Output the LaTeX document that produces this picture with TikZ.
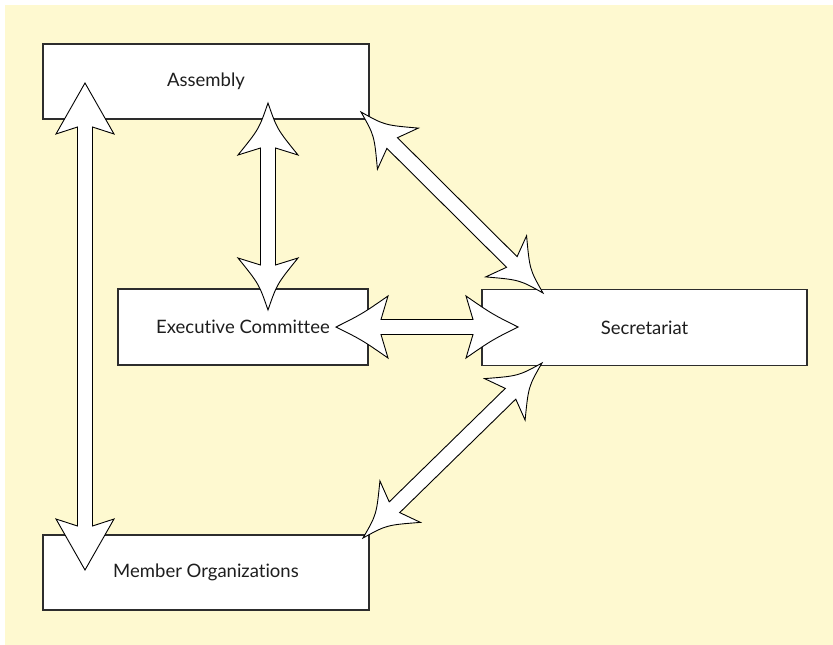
\documentclass[tikz,border=0pt]{standalone}
\usepackage{fontspec}
\setmainfont{Lato}[Ligatures=NoCommon]
\usetikzlibrary{calc}
\definecolor{bgc}{RGB}{254,249,208}
\definecolor{boxline}{RGB}{45,45,45}
\definecolor{txt}{RGB}{30,30,30}
\newcommand\blkarrow[6]{%
  \pgfpointanchor{#1}{center}\pgfgetlastxy{\bkAx}{\bkAy}%
  \pgfpointanchor{#2}{center}\pgfgetlastxy{\bkBx}{\bkBy}%
  \pgfmathsetmacro\bkAng{atan2(\bkBy-\bkAy,\bkBx-\bkAx)}%
  \pgfmathsetmacro\bkLen{veclen(\bkBx-\bkAx,\bkBy-\bkAy)}%
  \begin{scope}[shift={(#1)},rotate=\bkAng,x=1pt,y=1pt]
    \draw[blkarr] (0,0)
      .. controls ({0.5*#3},{(0.5-#6)*#4}) .. (#3,#4)
      -- (#5,7.5) -- ({\bkLen-#5},7.5) -- ({\bkLen-#3},#4)
      .. controls ({\bkLen-0.5*#3},{(0.5-#6)*#4}) .. (\bkLen,0)
      .. controls ({\bkLen-0.5*#3},{-(0.5-#6)*#4}) .. ({\bkLen-#3},-#4)
      -- ({\bkLen-#5},-7.5) -- (#5,-7.5) -- (#3,-#4)
      .. controls ({0.5*#3},{-(0.5-#6)*#4}) .. cycle;
  \end{scope}}
\begin{document}
\begin{tikzpicture}[x=1pt,y=-1pt,
  box/.style={draw=boxline,line width=1.6pt,fill=white,text=txt,inner sep=0pt,
    font=\fontsize{18.5}{22}\selectfont},
  blkarr/.style={draw=black,line width=0.9pt,fill=white,line join=miter}]
\useasboundingbox (0,0) rectangle (833,645);
\fill[bgc] (5,5) rectangle (833,645);
\node[box,minimum width=326pt,minimum height=75pt] (asm) at (206,81.5) {Assembly};
\node[box,minimum width=250pt,minimum height=76pt] (exe) at (243,327) {Executive Committee};
\node[box,minimum width=325pt,minimum height=76pt] (sec) at (644.5,327.5) {Secretariat};
\node[box,minimum width=326pt,minimum height=75pt] (mem) at (206,572.5) {Member Organizations};
\coordinate (a1s) at (85,83);
\coordinate (a1e) at (85,570);
\coordinate (a2s) at (268,103);
\coordinate (a2e) at (268,310);
\coordinate (a3s) at (336,327);
\coordinate (a3e) at (518,327);
\coordinate (a4s) at (361,112);
\coordinate (a4e) at (543,293);
\coordinate (a5s) at (542,363);
\coordinate (a5e) at (363,538);
\blkarrow{a1s}{a1e}{51}{29}{44}{0}
\blkarrow{a2s}{a2e}{52}{30}{45}{0.2}
\blkarrow{a3s}{a3e}{52}{31}{45}{0.08}
\blkarrow{a4s}{a4e}{52}{29}{44}{0.25}
\blkarrow{a5s}{a5e}{52}{29}{44}{0.25}
\end{tikzpicture}
\end{document}
